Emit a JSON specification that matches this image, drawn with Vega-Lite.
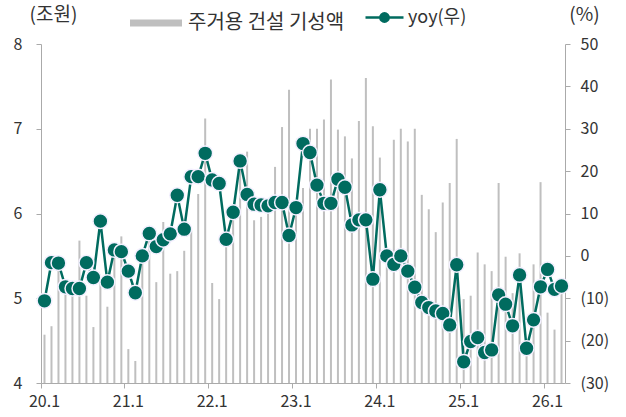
{
  "$schema": "https://vega.github.io/schema/vega-lite/v6.json",
  "width": 524,
  "height": 339,
  "autosize": "none",
  "padding": {"left": 41, "top": 44, "right": 61, "bottom": 34},
  "background": "white",
  "config": {
    "view": {"stroke": null},
    "font": "Noto Sans CJK KR",
    "axis": {"labelFont": "Noto Sans CJK KR", "labelFontSize": 16, "labelColor": "#333333", "domainColor": "#aaaaaa", "tickColor": "#aaaaaa", "grid": false, "titleFont": "Noto Sans CJK KR", "titleFontSize": 19, "titleFontWeight": "normal", "titleColor": "#333333"},
    "legend": {"labelFont": "Noto Sans CJK KR", "labelFontSize": 19, "labelColor": "#333333"}
  },
  "data": {"values": [
    {"m":"20.1","v":4.57,"y":-10.6},{"m":"20.2","v":4.67,"y":-1.6},{"m":"20.3","v":5.42,"y":-1.7},{"m":"20.4","v":5.12,"y":-7.3},{"m":"20.5","v":5.08,"y":-7.7},{"m":"20.6","v":5.68,"y":-7.7},{"m":"20.7","v":5.03,"y":-1.6},{"m":"20.8","v":4.66,"y":-5.1},{"m":"20.9","v":5.2,"y":8.2},{"m":"20.10","v":4.9,"y":-6.2},{"m":"20.11","v":5.55,"y":1.4},{"m":"20.12","v":5.73,"y":1.0},
    {"m":"21.1","v":4.40,"y":-3.6},{"m":"21.2","v":4.26,"y":-8.7},{"m":"21.3","v":5.5,"y":0.0},{"m":"21.4","v":5.78,"y":5.3},{"m":"21.5","v":5.19,"y":2.2},{"m":"21.6","v":5.90,"y":3.8},{"m":"21.7","v":5.29,"y":5.2},{"m":"21.8","v":5.32,"y":14.3},{"m":"21.9","v":5.56,"y":6.3},{"m":"21.10","v":5.8,"y":18.7},{"m":"21.11","v":6.23,"y":18.7},{"m":"21.12","v":7.12,"y":24.2},
    {"m":"22.1","v":5.18,"y":17.9},{"m":"22.2","v":4.99,"y":17.1},{"m":"22.3","v":5.65,"y":3.9},{"m":"22.4","v":6.0,"y":10.3},{"m":"22.5","v":6.55,"y":22.4},{"m":"22.6","v":6.73,"y":14.5},{"m":"22.7","v":5.92,"y":12.2},{"m":"22.8","v":5.96,"y":12.0},{"m":"22.9","v":6.01,"y":11.8},{"m":"22.10","v":6.55,"y":12.6},{"m":"22.11","v":7.02,"y":12.6},{"m":"22.12","v":7.46,"y":4.8},
    {"m":"23.1","v":6.05,"y":11.4},{"m":"23.2","v":6.30,"y":26.5},{"m":"23.3","v":7.0,"y":24.4},{"m":"23.4","v":7.0,"y":16.7},{"m":"23.5","v":7.11,"y":12.4},{"m":"23.6","v":7.58,"y":12.4},{"m":"23.7","v":6.99,"y":18.1},{"m":"23.8","v":6.91,"y":16.2},{"m":"23.9","v":6.65,"y":7.3},{"m":"23.10","v":7.09,"y":8.5},{"m":"23.11","v":7.60,"y":8.5},{"m":"23.12","v":7.03,"y":-5.5},
    {"m":"24.1","v":6.66,"y":15.6},{"m":"24.2","v":5.45,"y":0.0},{"m":"24.3","v":6.87,"y":-2.0},{"m":"24.4","v":7.0,"y":0.0},{"m":"24.5","v":6.85,"y":-3.6},{"m":"24.6","v":7.0,"y":-7.4},{"m":"24.7","v":6.22,"y":-11.0},{"m":"24.8","v":6.05,"y":-12.2},{"m":"24.9","v":5.78,"y":-13.0},{"m":"24.10","v":6.13,"y":-13.6},{"m":"24.11","v":6.36,"y":-16.3},{"m":"24.12","v":6.88,"y":-2.1},
    {"m":"25.1","v":4.99,"y":-25.0},{"m":"25.2","v":5.03,"y":-20.2},{"m":"25.3","v":5.54,"y":-19.3},{"m":"25.4","v":5.40,"y":-22.8},{"m":"25.5","v":5.32,"y":-22.2},{"m":"25.6","v":6.36,"y":-9.2},{"m":"25.7","v":5.49,"y":-11.4},{"m":"25.8","v":5.06,"y":-16.5},{"m":"25.9","v":5.53,"y":-4.5},{"m":"25.10","v":4.45,"y":-21.8},{"m":"25.11","v":5.40,"y":-15.1},{"m":"25.12","v":6.37,"y":-7.3},
    {"m":"26.1","v":4.83,"y":-3.2},{"m":"26.2","v":4.63,"y":-7.9},{"m":"26.3","v":5.1,"y":-7.1}
  ]},
  "encoding": {
    "x": {"field": "m", "type": "ordinal", "sort": null,
      "scale": {"type": "band", "paddingInner": 0, "paddingOuter": 0},
      "axis": {"title": null, "values": ["20.1","21.1","22.1","23.1","24.1","25.1","26.1"], "bandPosition": 0, "labelAngle": 0, "tickSize": 5, "labelPadding": 5, "domain": true, "labelAlign": "center"}}
  },
  "layer": [
    {
      "mark": {"type": "bar", "size": 2},
      "encoding": {
        "y": {"field": "v", "type": "quantitative", "scale": {"domain": [4, 8], "zero": false, "nice": false},
          "axis": {"values": [4,5,6,7,8], "tickSize": 5, "labelPadding": 14, "title": "(조원)", "titleAngle": 0, "titleX": 12, "titleY": -30, "titleAlign": "center", "titleBaseline": "middle"}},
        "y2": {"datum": 4},
        "fill": {"datum": "주거용 건설 기성액", "type": "nominal", "scale": {"range": ["#bfbfbf"]},
          "legend": {"title": null, "orient": "none", "legendX": 89, "legendY": -47, "symbolType": "M-1,-0.13H1V0.13H-1Z", "symbolSize": 2704, "symbolStrokeWidth": 0, "labelOffset": 6, "labelFontSize": 20}}
      }
    },
    {
      "layer": [
        {
          "mark": {"type": "rule", "color": "#808080", "strokeWidth": 1},
          "encoding": {"y": {"datum": 0, "type": "quantitative", "scale": {"domain": [-30, 50], "nice": false},
              "axis": {"orient": "right", "values": [-30,-20,-10,0,10,20,30,40,50], "tickSize": 5, "labelPadding": 10,
                "labelExpr": "datum.value < 0 ? '(' + (-datum.value) + ')' : datum.value",
                "title": "(%)", "titleAngle": 0, "titleX": 19, "titleY": -30, "titleAlign": "center", "titleBaseline": "middle"}}}
        },
        {
          "mark": {"type": "line", "strokeWidth": 2.5},
          "encoding": {
            "y": {"field": "y", "type": "quantitative"},
            "stroke": {"datum": "yoy(우)", "type": "nominal", "scale": {"range": ["#006b5f"]},
              "legend": {"title": null, "orient": "none", "legendX": 323, "legendY": -47, "symbolType": "M-1,0H1M-0.22,0A0.22,0.22 0 1,0 0.22,0A0.22,0.22 0 1,0 -0.22,0Z", "symbolSize": 1444, "symbolStrokeWidth": 2.5, "symbolFillColor": "#006b5f", "labelOffset": 3, "labelFontSize": 18}}
          }
        },
        {
          "mark": {"type": "point", "filled": true, "fill": "#006b5f", "stroke": "#f4f0ff", "strokeWidth": 1.5, "size": 220, "opacity": 1},
          "encoding": {"y": {"field": "y", "type": "quantitative"}}
        }
      ]
    }
  ],
  "resolve": {"scale": {"y": "independent"}}
}
